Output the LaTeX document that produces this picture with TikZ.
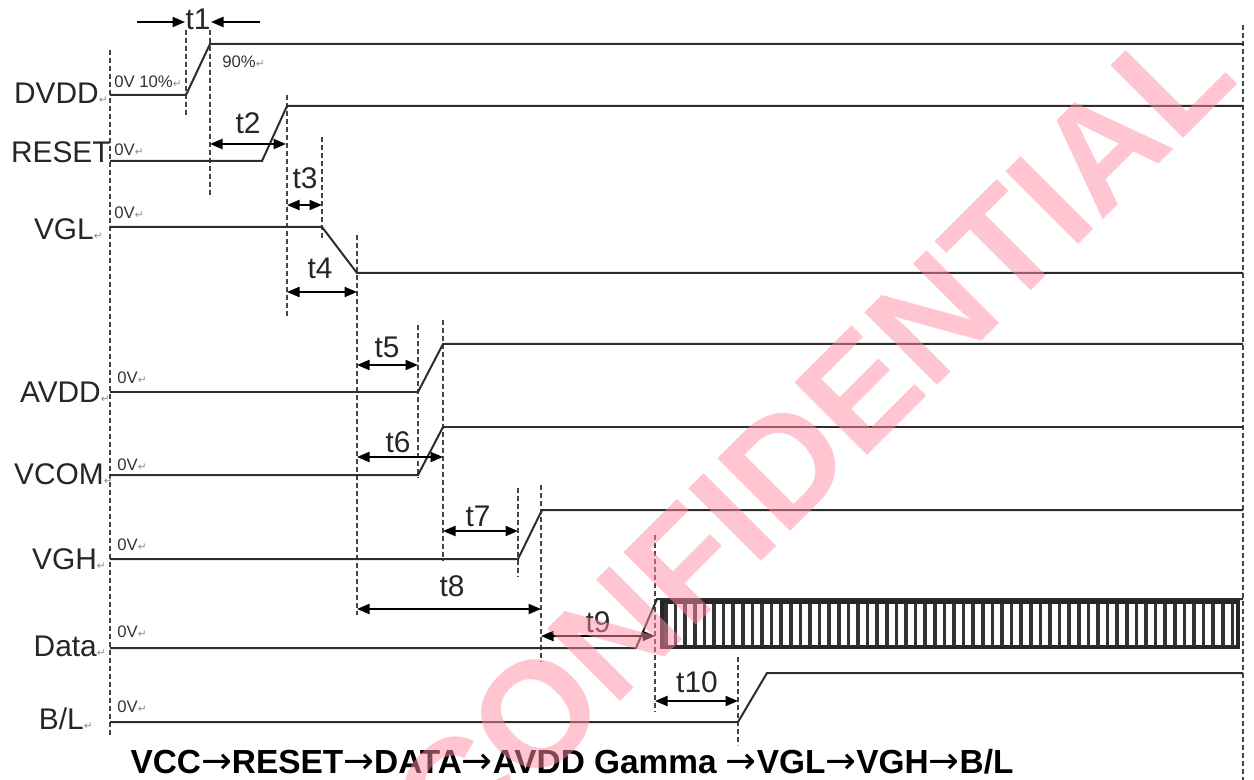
\documentclass[tikz,border=0pt]{standalone}
\usepackage{fontspec}
\setmainfont{Liberation Sans}
\newfontfamily\markfont{DejaVu Sans}
\usetikzlibrary{arrows.meta}
\definecolor{WaveGray}{RGB}{45, 45, 45}
\definecolor{GuideGray}{RGB}{70, 70, 70}
\definecolor{MarkGray}{RGB}{140, 140, 140}
\definecolor{WaterPink}{RGB}{255, 140, 162}
\newcommand{\pmark}{{\markfont\fontsize{6}{6}\selectfont\textcolor{MarkGray}{↵}}}
\newcommand{\rarr}{{\markfont\mdseries\fontsize{21}{21}\selectfont →}}

\begin{document}
\begin{tikzpicture}[x=0.02cm, y=-0.02cm, >={Triangle[length=0.25cm, width=0.2cm]},
    wave/.style={line width=0.04cm, WaveGray},
    guide/.style={dash pattern=on 0.1cm off 0.06cm, line width=0.03cm, GuideGray},
    dim/.style={<->, line width=0.04cm, black},
    sig/.style={font=\fontsize{17}{17}\selectfont, text=black!85, anchor=east, inner sep=0pt},
    tlab/.style={font=\fontsize{17}{17}\selectfont, text=black!85, inner sep=0pt},
    zero/.style={font=\fontsize{9.5}{10}\selectfont, text=black!80, anchor=west, inner sep=0pt}]
    \useasboundingbox (0,0) rectangle (1254,780);

    % time guides
    \foreach \gx/\gya/\gyb in {110/50/735, 186/30/117, 210/30/195, 287/95/317, 322/137/240,
        357/235/615, 418/325/477, 443/320/560, 518/488/577, 541/485/662, 655/535/712,
        738/657/745, 1243/25/780}
        \draw[guide] (\gx,\gya) -- (\gx,\gyb);

    % waveforms
    \draw[wave] (110,95) -- (186,95) -- (210,44) -- (1243,44);
    \draw[wave] (110,161) -- (262,161) -- (287,106) -- (1243,106);
    \draw[wave] (110,227) -- (322,227) -- (357,273) -- (1243,273);
    \draw[wave] (110,392) -- (418,392) -- (443,344) -- (1243,344);
    \draw[wave] (110,475) -- (418,475) -- (443,427) -- (1243,427);
    \draw[wave] (110,559) -- (518,559) -- (542,510) -- (1243,510);
    \draw[wave] (110,648) -- (636,648) -- (657,599) -- (1243,599);
    \draw[wave] (110,722) -- (738,722) -- (767,673) -- (1243,673);

    % data bus
    \draw[line width=0.07cm, black!85] (662,602) rectangle (1238,647);
    \foreach \i in {0,...,59}
        \draw[line width=0.07cm, black!80] ({666+\i*9.6},603) -- ({666+\i*9.6},646);

    % signal names
    \node[sig] (dvdd) at (108,93) {DVDD\pmark};
    \node[sig] (reset) at (111,152) {RESET};
    \node[sig] (vgl) at (103,229) {VGL\pmark};
    \node[sig] (avdd) at (110,392) {AVDD\pmark};
    \node[sig] (vcom) at (113,474) {VCOM\pmark};
    \node[sig] (vgh) at (106,559) {VGH\pmark};
    \node[sig] (data) at (106,646) {Data\pmark};
    \node[sig] (bl) at (93,719) {B/L\pmark};

    % levels
    \node[zero] (lv1) at (114,82) {0V 10\%\pmark};
    \node[zero] (lv2) at (222,62) {90\%\pmark};
    \node[zero] (lv3) at (114,150) {0V\pmark};
    \node[zero] (lv4) at (114,213) {0V\pmark};
    \node[zero] (lv5) at (117,378) {0V\pmark};
    \node[zero] (lv6) at (117,465) {0V\pmark};
    \node[zero] (lv7) at (117,545) {0V\pmark};
    \node[zero] (lv8) at (117,632) {0V\pmark};
    \node[zero] (lv9) at (117,707) {0V\pmark};

    % t1
    \coordinate (t1a) at (137,22);
    \coordinate (t1b) at (185,22);
    \coordinate (t1c) at (260,22);
    \coordinate (t1d) at (211,22);
    \draw[->, line width=0.04cm] (t1a) -- (t1b);
    \draw[->, line width=0.04cm] (t1c) -- (t1d);
    \node[tlab] (lt1) at (198,19) {t1};

    % t2 .. t10
    \foreach \n/\xa/\xb/\yy/\lx/\ly in {2/210/286/144/248/123, 3/287/322/205/305/178,
        4/287/357/292/320/268, 5/357/418/365/387/347, 6/357/443/457/398/442,
        7/443/518/531/478/516, 8/357/541/609/452/586, 9/541/655/636/598/622,
        10/655/738/701/697/682} {
        \coordinate (t\n a) at (\xa,\yy);
        \coordinate (t\n b) at (\xb,\yy);
        \draw[dim] (t\n a) -- (t\n b);
        \node[tlab] (lt\n) at (\lx,\ly) {t\n};
    }

    % sequence
    \node[font=\fontsize{19}{19}\selectfont\bfseries, inner sep=0pt] (seq) at (572,762)
        {VCC\rarr RESET\rarr DATA\rarr AVDD Gamma \rarr VGL\rarr VGH\rarr B/L};

    % watermark
    \begin{scope}
        \clip (0,0) rectangle (1254,780);
        \node[rotate=45, font=\fontsize{85}{85}\selectfont\bfseries, text=WaterPink,
            text opacity=0.5, inner sep=0pt] (wmark) at (812,438) {CONFIDENTIAL};
    \end{scope}
\end{tikzpicture}
\end{document}
